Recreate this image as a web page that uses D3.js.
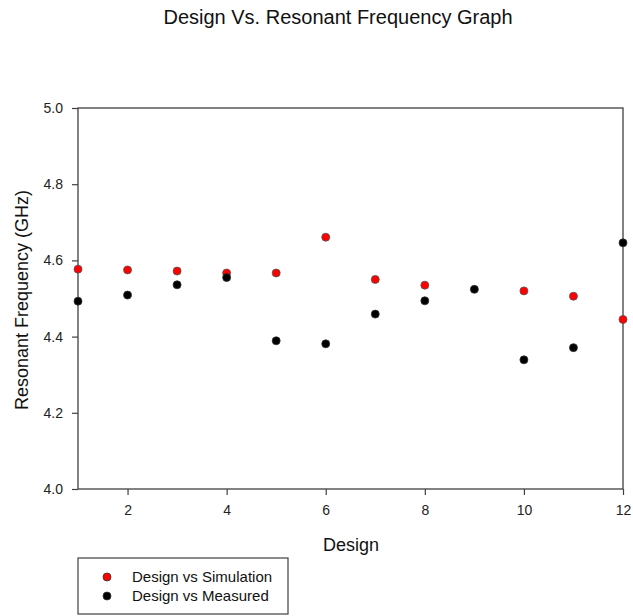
<!DOCTYPE html>
<html>
<head>
<meta charset="utf-8">
<script src="https://cdn.jsdelivr.net/npm/d3@7"></script>
<style>
  body { margin: 0; background: #fff; }
  text { font-family: "Liberation Sans", Arial, sans-serif; }
</style>
</head>
<body>
<div id="chart"></div>
<script>
// Data
const designs = [1, 2, 3, 4, 5, 6, 7, 8, 9, 10, 11, 12];
const simulation = [4.577, 4.575, 4.572, 4.567, 4.567, 4.661, 4.550, 4.535, null, 4.520, 4.506, 4.445];
const measured = [4.493, 4.509, 4.536, 4.555, 4.389, 4.381, 4.459, 4.494, 4.524, 4.339, 4.371, 4.646];
const xTicks = [2, 4, 6, 8, 10, 12];
const yTicks = [4.0, 4.2, 4.4, 4.6, 4.8, 5.0];

const W = 633, H = 616;
const margin = { top: 108, right: 10, bottom: 127, left: 78 },
      width = 623 - margin.left,
      height = 489 - margin.top;

const svg = d3.select("#chart")
    .append("svg")
    .attr("width", W)
    .attr("height", H);

const g = svg.append("g")
    .attr("transform", `translate(${margin.left},${margin.top})`);

const x = d3.scaleLinear().domain([1, 12]).range([0, width]);
const y = d3.scaleLinear().domain([4.0, 5.0]).range([height, 0]);

// Frame
g.append("rect")
    .attr("x", 0).attr("y", 0)
    .attr("width", width).attr("height", height)
    .attr("fill", "none")
    .attr("stroke", "#404040")
    .attr("stroke-width", 1.3);

// Axes
const xAxis = g.append("g")
    .attr("transform", `translate(0,${height})`)
    .call(d3.axisBottom(x).tickValues(xTicks).tickSize(6).tickPadding(10).tickFormat(d3.format("d")));

const yAxis = g.append("g")
    .call(d3.axisLeft(y).tickValues(yTicks).tickSize(6).tickPadding(9).tickFormat(d3.format(".1f")));

[xAxis, yAxis].forEach(a => {
    a.select(".domain").remove();
    a.selectAll("line").attr("stroke", "#404040").attr("stroke-width", 1.2);
    a.selectAll("text")
        .attr("fill", "#222")
        .style("font-size", "14px")
        .style("font-family", "Liberation Sans, Arial, sans-serif");
});

// Points: simulation (red) then measured (black) on top
const simPts = designs.map((d, i) => ({ d, v: simulation[i] })).filter(p => p.v != null);
const measPts = designs.map((d, i) => ({ d, v: measured[i] }));

g.selectAll(".sim")
    .data(simPts)
    .join("circle")
    .attr("class", "sim")
    .attr("cx", p => x(p.d))
    .attr("cy", p => y(p.v))
    .attr("r", 4)
    .attr("fill", "#ff0000")
    .attr("stroke", "#555")
    .attr("stroke-width", 0.8);

g.selectAll(".meas")
    .data(measPts)
    .join("circle")
    .attr("class", "meas")
    .attr("cx", p => x(p.d))
    .attr("cy", p => y(p.v))
    .attr("r", 4)
    .attr("fill", "#000")
    .attr("stroke", "#333")
    .attr("stroke-width", 0.8);

// Title
svg.append("text")
    .attr("x", 338)
    .attr("y", 24)
    .attr("text-anchor", "middle")
    .style("font-size", "20px")
    .attr("fill", "#111")
    .text("Design Vs. Resonant Frequency Graph");

// X axis label
svg.append("text")
    .attr("x", 351)
    .attr("y", 551)
    .attr("text-anchor", "middle")
    .style("font-size", "18px")
    .attr("fill", "#111")
    .text("Design");

// Y axis label
svg.append("text")
    .attr("transform", "translate(28,300) rotate(-90)")
    .attr("text-anchor", "middle")
    .style("font-size", "18px")
    .attr("fill", "#111")
    .text("Resonant Frequency (GHz)");

// Legend
const legend = svg.append("g")
    .attr("transform", "translate(78,558)");

legend.append("rect")
    .attr("x", 0).attr("y", 0)
    .attr("width", 210).attr("height", 56)
    .attr("fill", "#fff")
    .attr("stroke", "#404040")
    .attr("stroke-width", 1.2);

const legendItems = [
    { label: "Design vs Simulation", color: "#ff0000" },
    { label: "Design vs Measured", color: "#000" }
];

legendItems.forEach((item, i) => {
    legend.append("circle")
        .attr("cx", 29)
        .attr("cy", 19 + i * 19)
        .attr("r", 4)
        .attr("fill", item.color)
        .attr("stroke", "#333")
        .attr("stroke-width", 0.8);
    legend.append("text")
        .attr("x", 54)
        .attr("y", 24 + i * 19)
        .style("font-size", "15px")
        .attr("fill", "#111")
        .text(item.label);
});
</script>
</body>
</html>
